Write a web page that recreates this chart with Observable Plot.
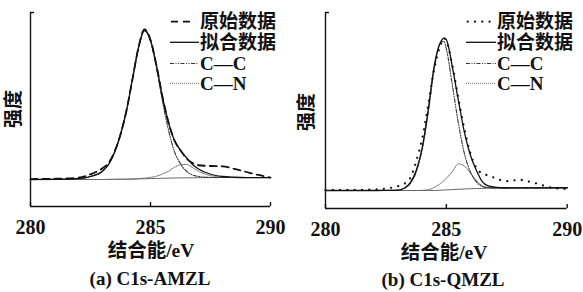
<!DOCTYPE html>
<html><head><meta charset="utf-8">
<script src="https://cdn.jsdelivr.net/npm/d3@7"></script>
<script src="https://cdn.jsdelivr.net/npm/@observablehq/plot@0.6"></script>
<style>
html,body{margin:0;padding:0;background:#fff;}
#root{position:relative;width:583px;height:292px;overflow:hidden;background:#fff;}
.panel{position:absolute;top:0;}
</style></head><body>
<div id="root"><div id="pa" class="panel" style="left:0px"></div><div id="pb" class="panel" style="left:290px"></div></div>
<script>
// ---- text ----
const xTicks = [280, 285, 290];
const captions = ["(a) C1s-AMZL", "(b) C1s-QMZL"];
const xTitle = "结合能/eV";
const yTitle = "强度";
const legendLabels = ["原始数据", "拟合数据", "C—C", "C—N"];

// ---- panel (a) C1s-AMZL ----
const xA   = [280, 281, 282, 282.5, 283, 283.25, 283.5, 283.75, 284, 284.25, 284.5, 284.75, 285, 285.25, 285.5, 285.75, 286, 286.25, 286.5, 286.75, 287, 287.5, 288, 288.5, 289, 289.5, 290];
const rawA = [0.3, 0.5, 1.2, 3.5, 7.5, 11, 18.5, 30, 46, 67, 88, 100, 93, 76, 55, 38, 26, 19.5, 14, 11, 9.5, 9, 8.8, 7, 5, 3, 1.3];
const fitA = [0, 0.1, 0.6, 2, 5.5, 10, 18, 30, 46, 67, 88, 100, 93, 76, 55, 38, 26, 19.5, 14.5, 10, 7, 3.5, 2, 1.5, 1.3, 1.3, 1.3];
const ccA  = [0, 0.1, 0.6, 2, 5.5, 10, 18, 30, 46, 67, 87.5, 99, 92, 74.5, 52, 33, 18.5, 10.5, 5.5, 3, 2, 1.4, 1.3, 1.3, 1.3, 1.3, 1.3];
const cnA  = [0, 0, 0, 0, 0, 0.05, 0.1, 0.15, 0.2, 0.3, 0.6, 0.9, 1.4, 2.2, 3.7, 5.5, 8.2, 9.8, 10, 8, 5.5, 2.6, 1.5, 1.3, 1.3, 1.3, 1.3];
const bgA  = [0, 0, 0, 0, 0, 0.05, 0.1, 0.15, 0.2, 0.3, 0.4, 0.5, 0.6, 0.7, 0.8, 0.9, 1.0, 1.05, 1.1, 1.15, 1.2, 1.25, 1.3, 1.3, 1.3, 1.3, 1.3];

// ---- panel (b) C1s-QMZL ----
const xB   = [280, 281, 282, 282.5, 283, 283.25, 283.5, 283.75, 284, 284.25, 284.5, 284.75, 284.9, 285, 285.25, 285.5, 285.75, 286, 286.25, 286.5, 286.75, 287, 287.25, 287.5, 287.75, 288, 288.25, 288.5, 288.75, 289, 289.5, 290];
const rawB = [0.3, 0.4, 0.6, 1.3, 2.8, 4.3, 8, 19, 34, 56, 80, 95, 100, 98, 82, 60, 40, 24, 14.5, 11, 9.8, 8.3, 6.8, 6.1, 6.5, 7, 6.6, 5.5, 4.5, 3.3, 1.5, 1];
const fitB = [0, 0, 0, 0.1, 0.3, 1.5, 5, 13, 28, 53, 82, 97, 100, 99, 81, 59, 38, 23, 13, 5.5, 3, 2.2, 1.9, 1.8, 1.75, 1.75, 1.75, 1.75, 1.75, 1.75, 1.8, 1.8];
const ccB  = [0, 0, 0, 0.1, 0.3, 1.3, 4.5, 12, 27, 51, 80, 97, 98, 93, 69, 44, 24, 12, 5.5, 2.5, 1.8, 1.6, 1.6, 1.65, 1.65, 1.7, 1.7, 1.7, 1.75, 1.75, 1.8, 1.8];
const cnB  = [0, 0, 0, 0, 0, 0, 0, 0, 0.1, 0.5, 2, 4.5, 6.5, 8, 12.5, 17.5, 16, 11.5, 6.5, 3, 2, 1.7, 1.6, 1.65, 1.65, 1.7, 1.7, 1.7, 1.75, 1.75, 1.8, 1.8];
const bgB  = [0, 0, 0, 0, 0, 0, 0, 0, 0, 0, 0, 0.2, 0.3, 0.4, 0.6, 0.8, 1.0, 1.2, 1.3, 1.4, 1.5, 1.6, 1.6, 1.65, 1.65, 1.7, 1.7, 1.7, 1.75, 1.75, 1.8, 1.8];

const SER = "'Liberation Serif','Noto Sans CJK SC',serif";
const INK = "#111";

const sty = {
  rawA: {stroke: INK, strokeWidth: 1.8, strokeDasharray: "7,5"},
  rawB: {stroke: INK, strokeWidth: 2.3, strokeDasharray: "0,7.3", strokeLinecap: "round"},
  fit:  {stroke: INK, strokeWidth: 1.3},
  cc:   {stroke: "#333", strokeWidth: 1.1, strokeDasharray: "4,1.5,1,1.5,1,1.5"},
  cn:   {stroke: "#6a6a6a", strokeWidth: 1, strokeDasharray: "1,1"},
  bg:   {stroke: "#666", strokeWidth: 1}
};

function rows(xs, ys) { return xs.map((x, i) => ({x, y: ys[i]})); }

function panel(cfg) {
  const [y0, y1] = cfg.yDomain;
  const plotH = cfg.height - cfg.marginTop - cfg.marginBottom;
  const plotW = cfg.width - cfg.marginLeft - cfg.marginRight;
  const upp = (y1 - y0) / plotH;
  const xpp = 10 / plotW;
  const L = (ys, s) => Plot.line(rows(cfg.x, ys), {x: "x", y: "y", curve: "monotone-x", ...s});
  return Plot.plot({
    width: cfg.width, height: cfg.height,
    marginLeft: cfg.marginLeft, marginRight: cfg.marginRight,
    marginTop: cfg.marginTop, marginBottom: cfg.marginBottom,
    x: {domain: [280, 290]},
    y: {domain: cfg.yDomain, axis: null},
    style: `font-family:${SER};font-size:20px;font-weight:bold;color:${INK};background:transparent;`,
    marks: [
      L(cfg.bg, sty.bg),
      L(cfg.cn, sty.cn),
      L(cfg.cc, sty.cc),
      L(cfg.fit, sty.fit),
      L(cfg.raw, cfg.rawStyle),
      Plot.ruleX([280], {stroke: INK, strokeWidth: 1.4}),
      Plot.ruleY([y0], {stroke: INK, strokeWidth: 1.4}),
      Plot.ruleX(xTicks, {y1: y0, y2: y0 + 4 * upp, stroke: INK, strokeWidth: 1.4}),
      Plot.ruleY([y1], {x1: 280, x2: 280 + 4 * xpp, stroke: INK, strokeWidth: 1.4}),
      Plot.axisX(xTicks, {tickSize: 0, tickPadding: 13, label: null, fontSize: 20, fontWeight: "bold", tickFormat: d => String(d)})
    ]
  });
}

document.getElementById("pa").appendChild(panel({
  width: 290, height: 240, marginLeft: 30, marginRight: 20, marginTop: 12, marginBottom: 34,
  yDomain: [-18, 111.33], x: xA, raw: rawA, fit: fitA, cc: ccA, cn: cnA, bg: bgA, rawStyle: sty.rawA
}));
document.getElementById("pb").appendChild(panel({
  width: 293, height: 240, marginLeft: 35, marginRight: 16.3, marginTop: 12, marginBottom: 32,
  yDomain: [-11.82, 116.87], x: xB, raw: rawB, fit: fitB, cc: ccB, cn: cnB, bg: bgB, rawStyle: sty.rawB
}));

// ---- overlay: titles, captions, legends ----
const ov = d3.select("#root").append("svg")
  .attr("width", 583).attr("height", 292)
  .style("position", "absolute").style("left", "0px").style("top", "0px")
  .attr("font-family", SER).attr("font-weight", "bold").attr("fill", INK);

const panelsText = [
  {xt: [151, 257], cap: [150, 285], yt: [13.5, 109], lx1: 170, lx2: 199, tx: 200, raw: sty.rawA, rawX1: 171, rawX2: 190},
  {xt: [444, 259], cap: [443, 286], yt: [306.5, 112], lx1: 466, lx2: 496, tx: 497, raw: sty.rawB, rawX1: 467.7, rawX2: 490}
];
const rowY = [21.7, 42.3, 63.5, 83.3];

panelsText.forEach((p, k) => {
  ov.append("text").attr("x", p.xt[0]).attr("y", p.xt[1]).attr("text-anchor", "middle")
    .attr("font-size", 19.5).text(xTitle);
  ov.append("text").attr("x", p.cap[0]).attr("y", p.cap[1]).attr("text-anchor", "middle")
    .attr("font-size", 19).text(captions[k]);
  ov.append("text").attr("transform", `translate(${p.yt[0]},${p.yt[1]}) rotate(-90)`)
    .attr("text-anchor", "middle").attr("dominant-baseline", "central")
    .attr("font-size", 19).text(yTitle);
  const styles = [p.raw, sty.fit, sty.cc, sty.cn];
  legendLabels.forEach((lab, i) => {
    const s = styles[i];
    const x1 = i === 0 ? p.rawX1 : p.lx1, x2 = i === 0 ? p.rawX2 : p.lx2;
    ov.append("line").attr("x1", x1).attr("x2", x2).attr("y1", rowY[i]).attr("y2", rowY[i])
      .attr("stroke", s.stroke).attr("stroke-width", s.strokeWidth)
      .attr("stroke-dasharray", s.strokeDasharray || null)
      .attr("stroke-linecap", s.strokeLinecap || null);
    ov.append("text").attr("x", p.tx).attr("y", rowY[i]).attr("dominant-baseline", "central")
      .attr("font-size", 19).text(lab);
  });
});
</script>
</body></html>
